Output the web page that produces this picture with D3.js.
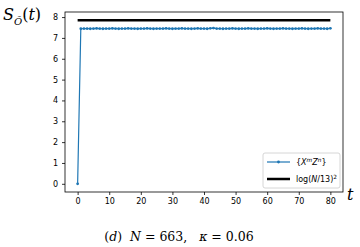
<!DOCTYPE html>
<html><head><meta charset="utf-8">
<script src="https://cdn.jsdelivr.net/npm/d3@7"></script>
<style>body{margin:0;background:#fff} text{white-space:pre}</style>
</head><body>
<script>
const tValues = d3.range(0, 81);
const seriesValues = [0.0,
 7.44,7.45,7.45,7.44,7.45,7.46,7.45,7.44,7.45,7.45,
 7.46,7.45,7.44,7.45,7.45,7.46,7.45,7.45,7.44,7.45,
 7.45,7.46,7.45,7.44,7.45,7.45,7.45,7.46,7.45,7.44,
 7.45,7.45,7.46,7.45,7.45,7.44,7.45,7.46,7.45,7.45,
 7.44,7.46,7.47,7.45,7.45,7.44,7.45,7.45,7.46,7.45,
 7.44,7.45,7.45,7.46,7.45,7.45,7.44,7.45,7.45,7.46,
 7.45,7.44,7.45,7.45,7.46,7.45,7.45,7.44,7.45,7.45,
 7.46,7.45,7.44,7.45,7.45,7.46,7.45,7.45,7.44,7.46];
const refLevel = 7.85;
const xTicks = [0,10,20,30,40,50,60,70,80];
const yTicks = [0,1,2,3,4,5,6,7,8];

const W = 360, H = 247;
const svg = d3.select("body").append("svg").attr("width", W).attr("height", H);
const L = 65, R = 343, T = 12, B = 192;
const x = d3.scaleLinear().domain([-4, 84]).range([L, R]);
const y = d3.scaleLinear().domain([-0.393, 8.243]).range([B, T]);

const fontTick = "DejaVu Sans, sans-serif";
const fontMath = "DejaVu Serif, serif";

const xa = svg.append("g").attr("transform", `translate(0,${B})`)
  .call(d3.axisBottom(x).tickValues(xTicks).tickSize(3).tickPadding(3));
const ya = svg.append("g").attr("transform", `translate(${L},0)`)
  .call(d3.axisLeft(y).tickValues(yTicks).tickSize(3).tickPadding(4));
[xa, ya].forEach(g => {
  g.select(".domain").remove();
  g.selectAll("line").attr("stroke", "#000").attr("stroke-width", 0.8);
  g.selectAll("text").attr("font-family", fontTick).attr("font-size", 8).attr("fill", "#000");
});
svg.append("rect").attr("x", L).attr("y", T).attr("width", R - L).attr("height", B - T)
  .attr("fill", "none").attr("stroke", "#000").attr("stroke-width", 0.8);

svg.append("line").attr("x1", x(0)).attr("x2", x(80)).attr("y1", y(refLevel)).attr("y2", y(refLevel))
  .attr("stroke", "#000").attr("stroke-width", 2.5);

const data = tValues.map((t, i) => ({t, v: seriesValues[i]}));
const blue = "#1f77b4";
svg.append("path").datum(data)
  .attr("d", d3.line().x(d => x(d.t)).y(d => y(d.v)))
  .attr("fill", "none").attr("stroke", blue).attr("stroke-width", 1.2);
svg.append("g").selectAll("circle").data(data).join("circle")
  .attr("cx", d => x(d.t)).attr("cy", d => y(d.v)).attr("r", 1.4).attr("fill", blue);

const lg = svg.append("g");
lg.append("rect").attr("x", 263).attr("y", 153).attr("width", 77).attr("height", 35).attr("rx", 2)
  .attr("fill", "#fff").attr("stroke", "#ccc").attr("stroke-width", 0.8);
lg.append("line").attr("x1", 267).attr("x2", 290).attr("y1", 162).attr("y2", 162)
  .attr("stroke", blue).attr("stroke-width", 1.2);
lg.append("circle").attr("cx", 278.5).attr("cy", 162).attr("r", 1.4).attr("fill", blue);
lg.append("line").attr("x1", 267).attr("x2", 290).attr("y1", 179).attr("y2", 179)
  .attr("stroke", "#000").attr("stroke-width", 2.5);
const t1 = lg.append("text").attr("x", 296).attr("y", 165).attr("font-family", fontTick).attr("font-size", 8);
t1.append("tspan").text("{");
t1.append("tspan").attr("font-style", "italic").text("X");
t1.append("tspan").attr("font-style", "italic").attr("font-size", 5.8).attr("dy", -3).text("m");
t1.append("tspan").attr("font-style", "italic").attr("dy", 3).text("Z");
t1.append("tspan").attr("font-style", "italic").attr("font-size", 5.8).attr("dy", -3).text("n");
t1.append("tspan").attr("dy", 3).text("}");
const t2 = lg.append("text").attr("x", 296).attr("y", 182).attr("font-family", fontTick).attr("font-size", 8);
t2.append("tspan").text("log(");
t2.append("tspan").attr("font-style", "italic").text("N");
t2.append("tspan").text("/13)");
t2.append("tspan").attr("font-size", 5.8).attr("dy", -3).text("2");

const yl = svg.append("text").attr("x", 3).attr("y", 20).attr("font-family", fontMath).attr("font-size", 16);
yl.append("tspan").attr("font-style", "italic").text("S");
yl.append("tspan").attr("font-style", "italic").attr("font-size", 10).attr("dy", 5).text("Õ");
yl.append("tspan").attr("dy", -5).text("(");
yl.append("tspan").attr("font-style", "italic").text("t");
yl.append("tspan").text(")");

svg.append("text").attr("x", 347).attr("y", 200).attr("font-family", fontMath)
  .attr("font-size", 16).attr("font-style", "italic").text("t");

const cap = svg.append("text").attr("x", 179).attr("y", 241).attr("text-anchor", "middle")
  .attr("font-family", fontMath).attr("font-size", 12.5);
cap.append("tspan").text("(");
cap.append("tspan").attr("font-style", "italic").text("d");
cap.append("tspan").text(")  ");
cap.append("tspan").attr("font-style", "italic").text("N");
cap.append("tspan").text(" = 663,   ");
cap.append("tspan").attr("font-style", "italic").text("κ");
cap.append("tspan").text(" = 0.06");
</script>
</body></html>
